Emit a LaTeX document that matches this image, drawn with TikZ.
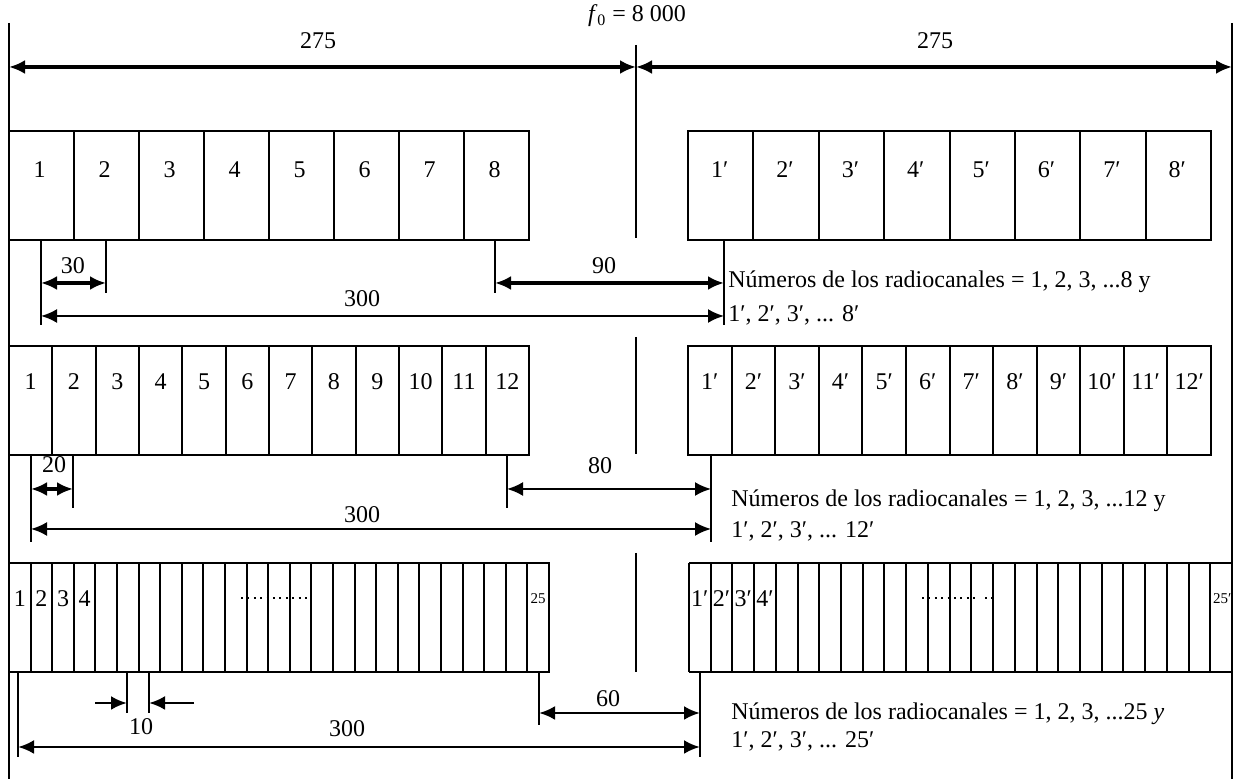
\documentclass[tikz,border=0pt]{standalone}
\usepackage{fontspec}
\setmainfont{Liberation Serif}
\usetikzlibrary{arrows.meta}
\tikzset{
  box/.style={line width=1pt},
  ext/.style={line width=1pt},
  tipA/.tip={Latex[length=8pt,width=7pt]},
  dimthick/.style={line width=1.7pt,tipA-tipA},
  dimmid/.style={line width=1.4pt,tipA-tipA},
  dimthin/.style={line width=1.1pt,tipA-tipA},
  lbl/.style={font=\fontsize{12}{14}\selectfont,inner sep=0pt},
  small/.style={font=\fontsize{7.5}{9}\selectfont,inner sep=0pt},
  txt/.style={font=\fontsize{12}{14}\selectfont,inner sep=0pt,anchor=west},
  dots/.style={line width=0.9pt,dash pattern=on 1pt off 2.2pt},
}
\begin{document}
\begin{tikzpicture}[x=0.5pt,y=-0.5pt]
\useasboundingbox (0,0) rectangle (1239,779);
% frame lines
\coordinate (LT) at (9,23);   \coordinate (LB) at (9,779);
\coordinate (RT) at (1232,23); \coordinate (RB) at (1232,779);
\draw[ext] (LT) -- (LB);
\draw[ext] (RT) -- (RB);
\draw[ext] (636,45) -- (636,238);
\draw[ext] (636,337) -- (636,454);
\draw[ext] (636,553) -- (636,672);
% top
\node[lbl] (f0) at (637,16) {\textit{f}\textsubscript{0} = 8 000};
\coordinate (TL) at (9,67); \coordinate (TM) at (636,67); \coordinate (TR) at (1232,67);
\draw[dimthick] (TL) -- (TM);
\draw[dimthick] (TM) -- (TR);
\node[lbl] (t1) at (318,41) {275};
\node[lbl] (t2) at (935,41) {275};

% ===== Row 1 =====
\draw[box] (9,131) rectangle (529,240);
\foreach \i in {1,...,7} \draw[box] ({9+65*\i},131) -- ({9+65*\i},240);
\foreach \i in {1,...,8} \node[lbl] at ({9+65*(\i-0.5)-2},170) {\i};
\draw[box] (688,131) rectangle (1211,240);
\foreach \i in {1,...,7} \draw[box] ({688+65.375*\i},131) -- ({688+65.375*\i},240);
\foreach \i in {1,...,8} \node[lbl] at ({688+65.375*(\i-0.5)-1},170) {\i′};
% dims row 1
\draw[ext] (41,240) -- (41,325);
\draw[ext] (106,240) -- (106,293);
\draw[ext] (495,240) -- (495,293);
\draw[ext] (724,240) -- (724,325);
\coordinate (a1) at (41,283); \coordinate (a2) at (106,283);
\coordinate (a3) at (495,283); \coordinate (a4) at (724,283);
\coordinate (a5) at (41,316); \coordinate (a6) at (724,316);
\draw[dimthick] (a1) -- (a2);
\draw[dimthick] (a3) -- (a4);
\draw[dimthin] (a5) -- (a6);
\node[lbl] at (73,266) {30};
\node[lbl] at (604,266) {90};
\node[lbl] at (362,299) {300};
\node[txt] at (728,282) {Números de los radiocanales = 1, 2, 3, ...8 y};
\node[txt] at (728,315) {1′, 2′, 3′, ... 8′};

% ===== Row 2 =====
\draw[box] (9,346) rectangle (529,455);
\foreach \i in {1,...,11} \draw[box] ({9+43.333*\i},346) -- ({9+43.333*\i},455);
\foreach \i in {1,...,12} \node[lbl] at ({9+43.333*(\i-0.5)},382) {\i};
\draw[box] (688,346) rectangle (1211,455);
\foreach \i in {1,...,11} \draw[box] ({688+43.583*\i},346) -- ({688+43.583*\i},455);
\foreach \i in {1,...,12} \node[lbl] at ({688+43.583*(\i-0.5)},382) {\i′};
% dims row 2
\draw[ext] (31,455) -- (31,542);
\draw[ext] (73,455) -- (73,508);
\draw[ext] (507,455) -- (507,508);
\draw[ext] (711,455) -- (711,542);
\coordinate (b1) at (31,489); \coordinate (b2) at (73,489);
\coordinate (b3) at (507,489); \coordinate (b4) at (711,489);
\coordinate (b5) at (31,529); \coordinate (b6) at (711,529);
\draw[dimthick] (b1) -- (b2);
\draw[dimthin] (b3) -- (b4);
\draw[dimthin] (b5) -- (b6);
\node[lbl] at (54,465) {20};
\node[lbl] at (600,466) {80};
\node[lbl] at (362,515) {300};
\node[txt] at (731,501) {Números de los radiocanales = 1, 2, 3, ...12 y};
\node[txt] at (731,531) {1′, 2′, 3′, ... 12′};

% ===== Row 3 =====
\draw[box] (9,563) rectangle (549,672);
\foreach \i in {1,...,24} \draw[box] ({9+21.6*\i},563) -- ({9+21.6*\i},672);
\foreach \i in {1,...,4} \node[lbl] at ({9+21.6*(\i-0.5)},599) {\i};
\node[small] at ({9+21.6*24.5},599) {25};
\draw[dots] (241,598) -- (311,598);
\draw[box] (689,563) -- (1232,563);
\draw[box] (689,672) -- (1232,672);
\draw[box] (689,563) -- (689,672);
\foreach \i in {1,...,24} \draw[box] ({689+21.72*\i},563) -- ({689+21.72*\i},672);
\foreach \i in {1,...,4} \node[lbl] at ({689+21.72*(\i-0.5)},599) {\i′};
\node[small] at ({689+21.72*24.5+1},599) {25′};
\draw[dots] (922,598) -- (978,598);
\draw[dots] (985,598) -- (994,598);
% dims row 3
\draw[ext] (18,672) -- (18,757);
\draw[ext] (127,672) -- (127,713);
\draw[ext] (149,672) -- (149,713);
\draw[ext] (539,672) -- (539,725);
\draw[ext] (700,672) -- (700,757);
\coordinate (c1) at (95,703); \coordinate (c2) at (127,703);
\coordinate (c3) at (194,703); \coordinate (c4) at (149,703);
\coordinate (c5) at (539,713); \coordinate (c6) at (700,713);
\coordinate (c7) at (18,747); \coordinate (c8) at (700,747);
\draw[line width=1.4pt,-tipA] (c1) -- (c2);
\draw[line width=1.4pt,-tipA] (c3) -- (c4);
\draw[dimmid] (c5) -- (c6);
\draw[dimmid] (c7) -- (c8);
\node[lbl] at (141,727) {10};
\node[lbl] at (608,699) {60};
\node[lbl] at (347,729) {300};
\node[txt] at (731,714) {Números de los radiocanales = 1, 2, 3, ...25 \textit{y}};
\node[txt] at (731,741) {1′, 2′, 3′, ... 25′};
\end{tikzpicture}
\end{document}
